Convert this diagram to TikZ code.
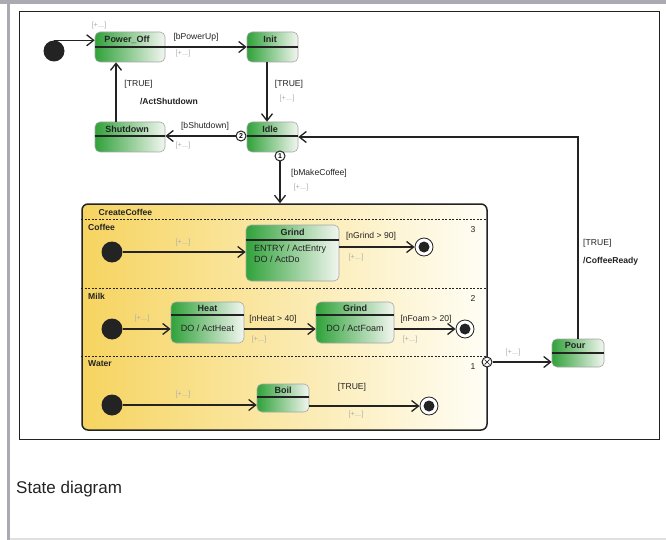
\documentclass[tikz,border=0pt]{standalone}
\usepackage{fontspec}
\setmainfont{Liberation Sans}
\usetikzlibrary{arrows.meta,calc}
\definecolor{gframe}{RGB}{170,170,176}
\definecolor{gdark}{RGB}{48,162,58}
\definecolor{glight}{RGB}{242,246,240}
\definecolor{ydark}{RGB}{246,212,96}
\definecolor{ylight}{RGB}{255,254,246}
\definecolor{plusgray}{RGB}{175,175,175}
\definecolor{ink}{RGB}{35,35,35}
\tikzset{
  stbox/.style={draw=black!35, line width=0.6pt, rounded corners=5pt, left color=gdark, right color=glight, inner sep=0pt},
  tline/.style={draw=ink, line width=1.3pt},
  ttl/.style={font=\fontsize{9}{10}\selectfont\bfseries, text=ink, inner sep=0pt},
  body/.style={font=\fontsize{9}{11.5}\selectfont, text=ink, inner sep=0pt, align=left},
  lbl/.style={font=\fontsize{8.6}{10}\selectfont, text=ink, inner sep=0pt},
  blbl/.style={font=\fontsize{8.6}{10}\selectfont\bfseries, text=ink, inner sep=0pt},
  plus/.style={font=\fontsize{7.5}{9}\selectfont, text=plusgray, inner sep=0pt},
  trans/.style={draw=ink, line width=1.3pt, -{Straight Barb[length=7pt,width=11pt,line width=1.3pt]}},
  initst/.style={circle, fill=ink, minimum size=21pt, inner sep=0pt},
  finst/.style={circle, draw=ink, line width=0.8pt, fill=white, minimum size=18pt, inner sep=0pt,
    path picture={\fill[ink] (path picture bounding box.center) circle (5.5pt);}},
  choice/.style={circle, draw=ink, line width=1pt, fill=white, minimum size=10pt, inner sep=0pt, font=\fontsize{7}{7}\selectfont\bfseries},
  exitpt/.style={circle, draw=ink, line width=1pt, fill=white, minimum size=10pt, inner sep=0pt,
    path picture={\draw[ink,line width=0.7pt] ([shift={(-2.5pt,-2.5pt)}]path picture bounding box.center) -- ([shift={(2.5pt,2.5pt)}]path picture bounding box.center);
                  \draw[ink,line width=0.7pt] ([shift={(-2.5pt,2.5pt)}]path picture bounding box.center) -- ([shift={(2.5pt,-2.5pt)}]path picture bounding box.center);}},
  divider/.style={draw=ink, line width=1pt, dash pattern=on 2pt off 1.5pt},
  regnum/.style={font=\fontsize{8.6}{10}\selectfont, text=ink, inner sep=0pt},
  comp/.style={draw=ink, line width=1.5pt, rounded corners=6pt, left color=ydark, right color=ylight, inner sep=0pt},
}
\begin{document}
\begin{tikzpicture}[x=1pt,y=-1pt]
\useasboundingbox (0,0) rectangle (666,540);
\fill[white] (0,0) rectangle (666,540);
% page frame
\fill[gframe] (0,0) rectangle (666,4);
\fill[gframe] (7,4) rectangle (10,540);
\fill[black!12] (10,538) rectangle (666,540);
% diagram frame
\draw[ink, line width=1pt] (19,12) rectangle (659,439);

% composite state
\node[comp, minimum width=405pt, minimum height=226pt] (cc) at (284.5,317) {};
\draw[divider] (cc.west |- 0,219) -- (cc.east |- 0,219);
\draw[divider] (cc.west |- 0,288) -- (cc.east |- 0,288);
\draw[divider] (cc.west |- 0,356) -- (cc.east |- 0,356);
\node[blbl] (cctitle) at (125.5,212) {CreateCoffee};
\node[blbl, anchor=west] (rcoffee) at (88,227) {Coffee};
\node[blbl, anchor=west] (rmilk) at (88,296) {Milk};
\node[blbl, anchor=west] (rwater) at (88,364) {Water};
\node[regnum] (n3) at (473,230) {3};
\node[regnum] (n2) at (473,298) {2};
\node[regnum] (n1) at (473,367) {1};

% top-level states
\node[initst] (i0) at (54,51) {};
\node[stbox, minimum width=70pt, minimum height=30pt] (pwr) at (130,47) {};
\draw[tline] (pwr.west |- 0,47) -- (pwr.east |- 0,47);
\node[ttl] (pwrt) at (127,39.5) {Power\_Off};
\node[stbox, minimum width=51pt, minimum height=30pt] (init) at (272.5,47) {};
\draw[tline] (init.west |- 0,47) -- (init.east |- 0,47);
\node[ttl] (initt) at (270,39.5) {Init};
\node[stbox, minimum width=70pt, minimum height=30pt] (sd) at (130,137) {};
\draw[tline] (sd.west |- 0,136) -- (sd.east |- 0,136);
\node[ttl] (sdt) at (127,129) {Shutdown};
\node[stbox, minimum width=51pt, minimum height=30pt] (idle) at (272.5,137) {};
\draw[tline] (idle.west |- 0,136) -- (idle.east |- 0,136);
\node[ttl] (idlet) at (270,129) {Idle};
\node[stbox, minimum width=52pt, minimum height=28pt] (pour) at (578,353) {};
\draw[tline] (pour.west |- 0,353) -- (pour.east |- 0,353);
\node[ttl] (pourt) at (575,345.5) {Pour};

% region states
\node[initst] (ci) at (112,252) {};
\node[stbox, minimum width=93pt, minimum height=56pt] (grind) at (292.5,253) {};
\draw[tline] (grind.west |- 0,240) -- (grind.east |- 0,240);
\node[ttl] (grindt) at (292.5,232) {Grind};
\node[body, anchor=north west] (grindb) at (254,244.5) {ENTRY / ActEntry\\DO / ActDo};
\node[finst] (cf) at (424,247) {};

\node[initst] (mi) at (112,329) {};
\node[stbox, minimum width=73pt, minimum height=41pt] (heat) at (207.5,322.5) {};
\draw[tline] (heat.west |- 0,315) -- (heat.east |- 0,315);
\node[ttl] (heatt) at (207.5,308) {Heat};
\node[body] (heatb) at (207.5,328) {DO / ActHeat};
\node[stbox, minimum width=78pt, minimum height=41pt] (grindb2) at (355,322.5) {};
\draw[tline] (grindb2.west |- 0,315) -- (grindb2.east |- 0,315);
\node[ttl] (grind2t) at (355,308) {Grind};
\node[body] (grind2b) at (355,328) {DO / ActFoam};
\node[finst] (mf) at (465,329) {};

\node[initst] (wi) at (112,405) {};
\node[stbox, minimum width=52pt, minimum height=28pt] (boil) at (283,398) {};
\draw[tline] (boil.west |- 0,397) -- (boil.east |- 0,397);
\node[ttl] (boilt) at (283,390) {Boil};
\node[finst] (wf) at (429,406) {};

\node[exitpt] (ex) at (487,362) {};

% pseudo choice markers
\node[choice] (c2) at (241,136) {2};
\node[choice] (c1) at (280,156) {1};

% transitions
\draw[trans] (i0.north) -- (i0.north -| pwr.west);
\draw[trans] (pwr.east) -- (init.west);
\draw[trans] ([xshift=-5.5pt]init.south) -- ([xshift=-5.5pt]idle.north);
\draw[trans] ([xshift=-14pt]sd.north) -- ([xshift=-14pt]pwr.south);
\draw[trans] (c2.west) -- (sd.east |- c2);
\draw[trans] (c1.south) -- (c1 |- cc.north);
\draw[trans] (pour.north) |- (idle.east);
\draw[trans] (ex.east) -- (pour.west |- ex);
\draw[trans] (ci.east) -- (ci -| grind.west);
\draw[trans] (grind.east |- cf) -- (cf.west);
\draw[trans] (mi.east) -- (mi -| heat.west);
\draw[trans] (heat.east |- mi) -- (grindb2.west |- mi);
\draw[trans] (grindb2.east |- mf) -- (mf.west);
\draw[trans] (wi.east) -- (wi -| boil.west);
\draw[trans] (boil.east |- wf) -- (wf.west);

% labels
\node[plus] (p1) at (99,26) {[+...]};
\node[lbl] (l1) at (196,37) {[bPowerUp]};
\node[plus] (p2) at (183,54) {[+...]};
\node[lbl] (l2) at (289,84) {[TRUE]};
\node[plus] (p3) at (287,99) {[+...]};
\node[lbl] (l3) at (138.5,84) {[TRUE]};
\node[blbl] (l4) at (169,101) {/ActShutdown};
\node[lbl] (l5) at (205,126) {[bShutdown]};
\node[plus] (p4) at (183,146) {[+...]};
\node[lbl] (l6) at (319,173) {[bMakeCoffee]};
\node[plus] (p5) at (301,188) {[+...]};
\node[lbl, anchor=west] (l7) at (583,243) {[TRUE]};
\node[blbl, anchor=west] (l8) at (583,261) {/CoffeeReady};
\node[plus] (p6) at (183,243) {[+...]};
\node[lbl] (l9) at (371,236) {[nGrind > 90]};
\node[plus] (p7) at (356,258) {[+...]};
\node[plus] (p8) at (142,319) {[+...]};
\node[lbl] (l10) at (273,319) {[nHeat > 40]};
\node[plus] (p9) at (259,340) {[+...]};
\node[lbl] (l11) at (426,319) {[nFoam > 20]};
\node[plus] (p10) at (410,340) {[+...]};
\node[plus] (p11) at (183,395) {[+...]};
\node[lbl] (l12) at (352,387) {[TRUE]};
\node[plus] (p12) at (356,415) {[+...]};
\node[plus] (p13) at (513,353) {[+...]};

% caption
\node[anchor=west, font=\fontsize{17}{20}\selectfont, text=ink, inner sep=0pt] (cap) at (16,489) {State diagram};
\end{tikzpicture}
\end{document}
